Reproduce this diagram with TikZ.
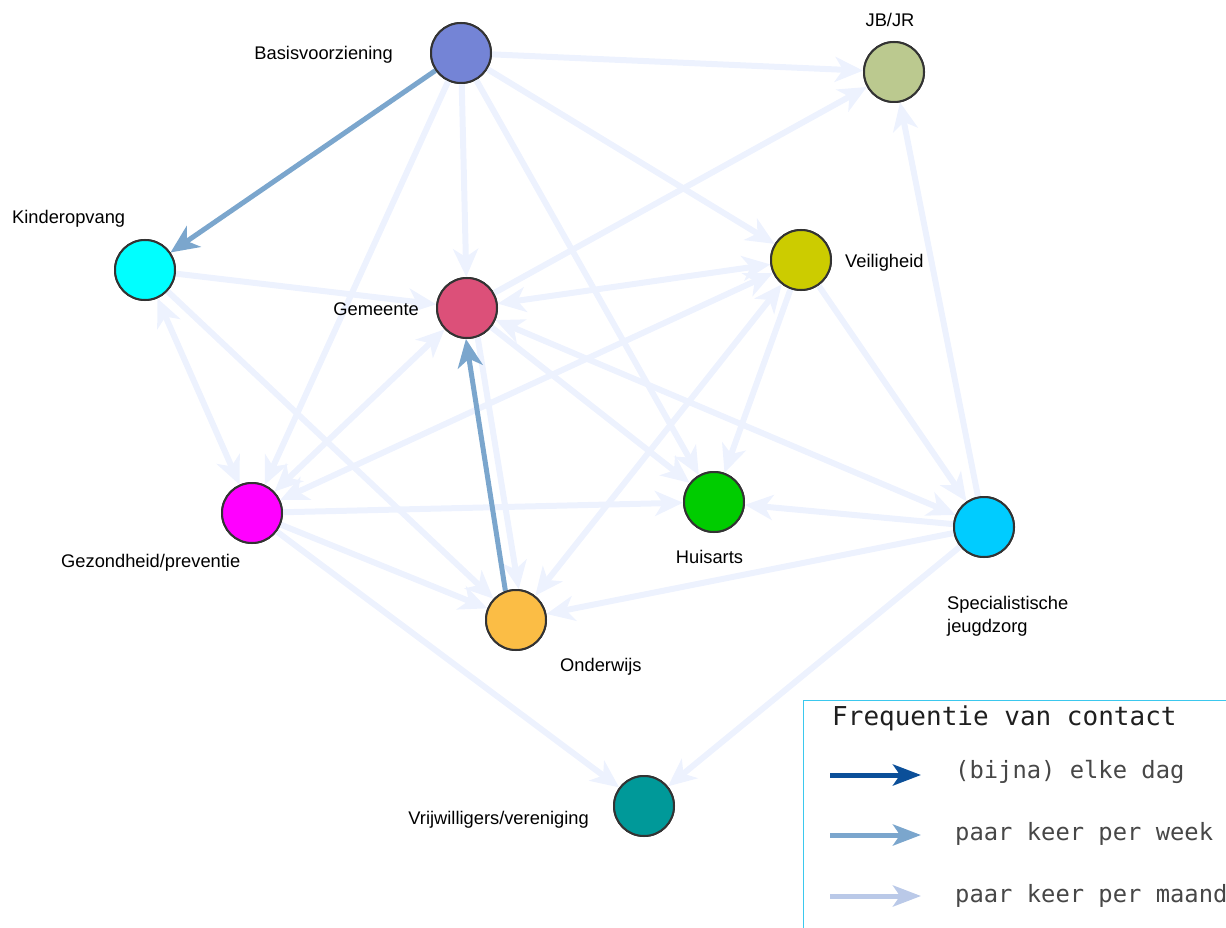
\documentclass[tikz,border=0pt]{standalone}
\usepackage{fontspec}
\setmainfont{Liberation Sans}
\newfontfamily\legendmono{DejaVu Sans Mono}
\usetikzlibrary{arrows.meta}

\definecolor{ringgray}{HTML}{333333}
\definecolor{monthblue}{HTML}{EDF2FE}
\definecolor{weekblue}{HTML}{7BA6CD}
\definecolor{dayblue}{HTML}{0B4F99}
\definecolor{legmonth}{HTML}{BAC9E8}
\definecolor{legframe}{HTML}{3BC8EE}
\definecolor{cBasis}{HTML}{7484D6}
\definecolor{cJB}{HTML}{BBC98F}
\definecolor{cKinder}{HTML}{00FFFF}
\definecolor{cGem}{HTML}{DC5079}
\definecolor{cVeil}{HTML}{CCCC00}
\definecolor{cGez}{HTML}{FF00FF}
\definecolor{cHuis}{HTML}{00CC00}
\definecolor{cSpec}{HTML}{00CCFF}
\definecolor{cOnd}{HTML}{FBBD45}
\definecolor{cVrij}{HTML}{009999}

\tikzset{
  actor/.style={circle, draw=ringgray, line width=2pt, minimum size=60pt, inner sep=0pt},
  lbl/.style={font=\fontsize{18.3}{22}\selectfont, inner sep=0pt, text=black},
  tipm/.tip={Stealth[length=28pt, width=25pt, inset=8pt]},
  month/.style={draw=monthblue, line width=6pt, -tipm},
  monthboth/.style={draw=monthblue, line width=6pt, tipm-tipm},
  week/.style={draw=weekblue, line width=5pt, -tipm},
  legarrow/.style={line width=5pt, -{Stealth[length=28pt, width=21pt, inset=7pt]}},
  legtitle/.style={font=\legendmono\fontsize{26}{30}\selectfont, text=black!88, inner sep=0pt, anchor=base west},
  legitem/.style={font=\legendmono\fontsize{23.8}{28}\selectfont, text=black!72, inner sep=0pt, anchor=base west},
}

\begin{document}
\begin{tikzpicture}[x=1pt, y=-1pt]
\useasboundingbox (0,0) rectangle (1226,928);
\clip (0,0) rectangle (1226,928);

% actors
\node[actor, fill=cBasis]  (B) at (461,53)  {};
\node[actor, fill=cJB]     (J) at (894,72)  {};
\node[actor, fill=cKinder] (K) at (145,270) {};
\node[actor, fill=cGem]    (G) at (467,308) {};
\node[actor, fill=cVeil]   (V) at (801,260) {};
\node[actor, fill=cGez]    (P) at (252,513) {};
\node[actor, fill=cHuis]   (H) at (714,502) {};
\node[actor, fill=cSpec]   (S) at (984,527) {};
\node[actor, fill=cOnd]    (O) at (516,620) {};
\node[actor, fill=cVrij]   (W) at (644,806) {};

% contacts a few times a month
\draw[month] (B) -- (J);
\draw[month] (B) -- (G);
\draw[month] (B) -- (V);
\draw[month] (B) -- (H);
\draw[month] (B) -- (P);
\draw[month] (G) -- (J);
\draw[month] (K) -- (G);
\draw[monthboth] (K) -- (P);
\draw[month] (K) -- (O);
\draw[monthboth] (G) -- (V);
\draw[monthboth] (G) -- (P);
\draw[monthboth] (P) -- (V);
\draw[month] (G.-70) -- (O.85);
\draw[month] (G) -- (H);
\draw[monthboth] (G) -- (S);
\draw[month] (V) -- (H);
\draw[month] (V) -- (S);
\draw[monthboth] (O) -- (V);
\draw[month] (S) -- (H);
\draw[month] (S) -- (O);
\draw[month] (S) -- (J);
\draw[month] (S) -- (W);
\draw[month] (P) -- (H);
\draw[month] (P) -- (O);
\draw[month] (P) -- (W);

% contacts a few times a week
\draw[week] (B) -- (K);
\draw[week] (O.110) -- (G.-92);

% redraw the actors above the connectors
\foreach \n/\c in {B/cBasis, J/cJB, K/cKinder, G/cGem, V/cVeil, P/cGez, H/cHuis, S/cSpec, O/cOnd, W/cVrij}
  \draw[ringgray, line width=2pt, fill=\c] (\n) circle[radius=30pt];

% labels
\node[lbl, anchor=base east] (lB) at (393,59.5)  {Basisvoorziening};
\node[lbl, anchor=base]      (lJ) at (890,27)    {JB/JR};
\node[lbl, anchor=base west] (lK) at (12,223.5)  {Kinderopvang};
\node[lbl, anchor=base east] (lG) at (419,315)   {Gemeente};
\node[lbl, anchor=base west] (lV) at (845,267.5) {Veiligheid};
\node[lbl, anchor=base west] (lP) at (61,567.5)  {Gezondheid/preventie};
\node[lbl, anchor=base]      (lH) at (709.5,563.5) {Huisarts};
\node[lbl, anchor=base west] (lS1) at (947,609.5) {Specialistische};
\node[lbl, anchor=base west] (lS2) at (947,632.5) {jeugdzorg};
\node[lbl, anchor=base west] (lO) at (560,671.5) {Onderwijs};
\node[lbl, anchor=base east] (lW) at (589,824.5) {Vrijwilligers/vereniging};

% legend
\draw[legframe, line width=1.4pt] (803.5,1000) -- (803.5,700.5) -- (1300,700.5);
\node[legtitle] (lt) at (832,725) {Frequentie van contact};
\coordinate (d0) at (830,775); \coordinate (d1) at (921,775);
\coordinate (w0) at (830,835); \coordinate (w1) at (921,835);
\coordinate (m0) at (830,896); \coordinate (m1) at (921,896);
\draw[legarrow, dayblue]  (d0) -- (d1);
\draw[legarrow, weekblue] (w0) -- (w1);
\draw[legarrow, legmonth] (m0) -- (m1);
\node[legitem] (li1) at (955,778) {(bijna) elke dag};
\node[legitem] (li2) at (955,840) {paar keer per week};
\node[legitem] (li3) at (955,902) {paar keer per maand};
\end{tikzpicture}
\end{document}
